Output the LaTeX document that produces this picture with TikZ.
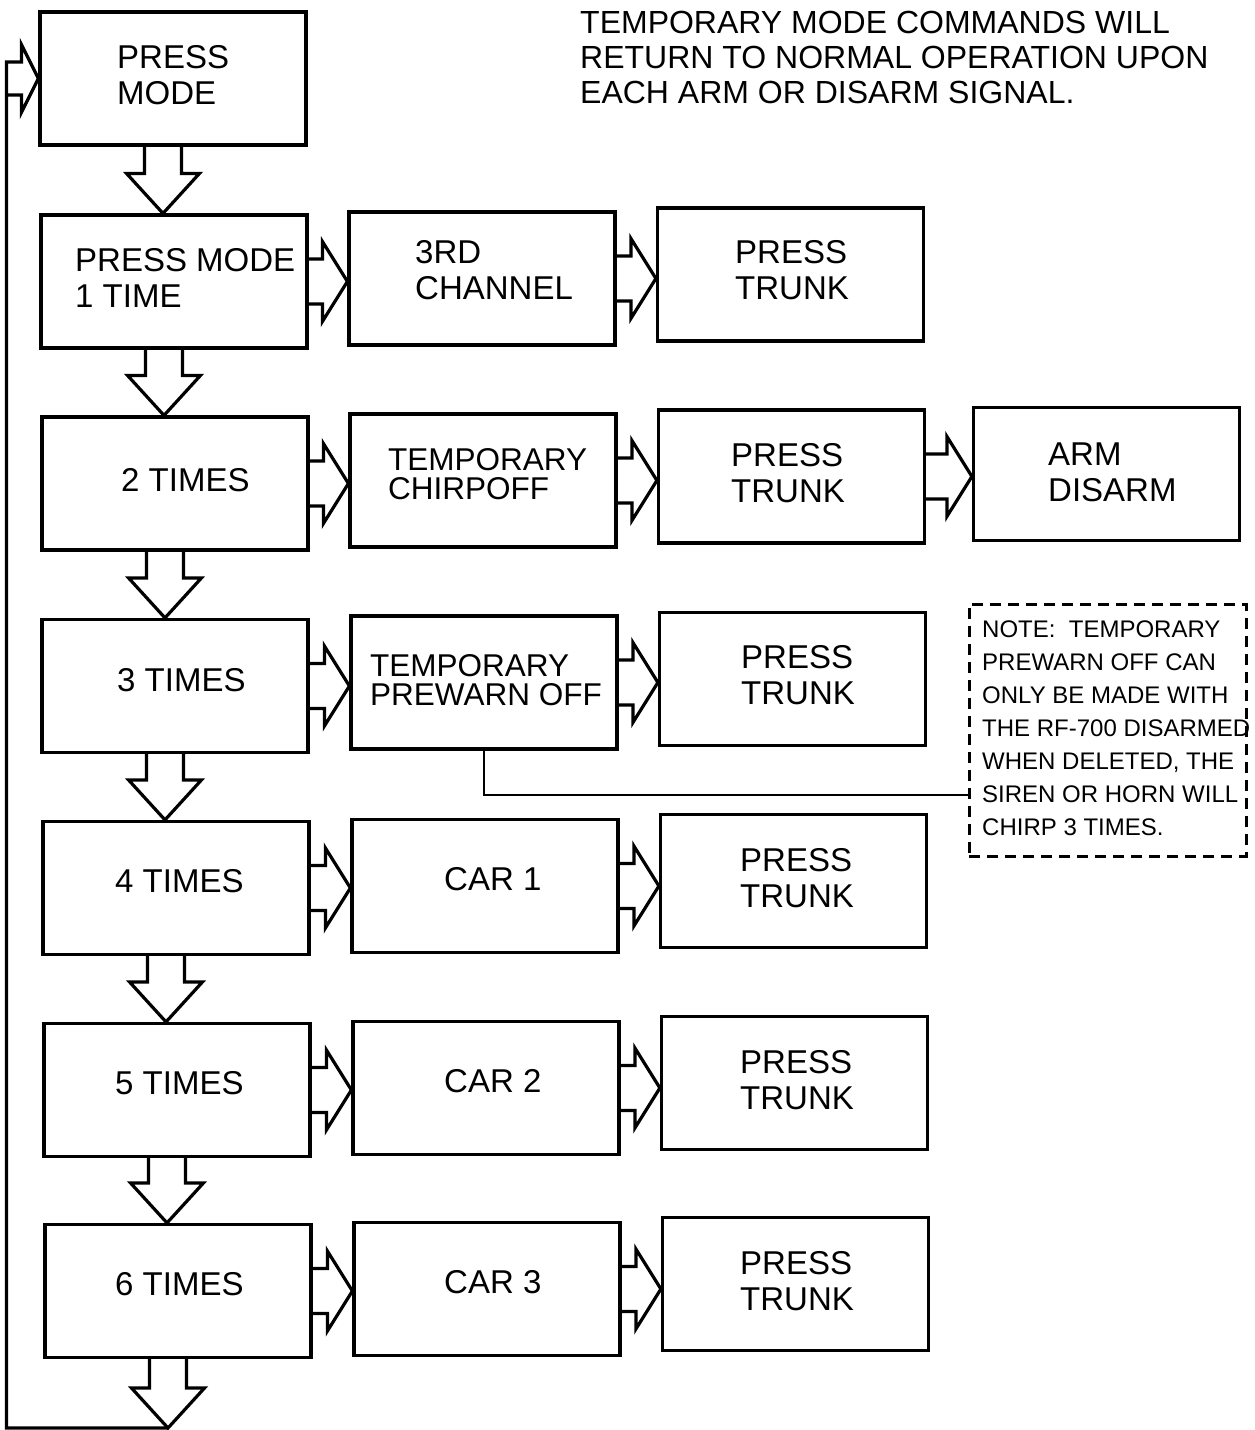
\documentclass[tikz,border=0pt]{standalone}
\usepackage{fontspec}
\setmainfont{Liberation Sans}
\usetikzlibrary{calc}

% block arrow pointing down, shaft starts at #1, tip lies on the level of #2
\newcommand{\downblock}[2]{%
    \draw[blockline] let \p1=(#1), \p2=(#2) in
        (\x1-18.5pt,\y1) -- (\x1-18.5pt,\y2+40pt) -- (\x1-36.5pt,\y2+40pt) -- (\x1,\y2)
        -- (\x1+36.5pt,\y2+40pt) -- (\x1+18.5pt,\y2+40pt) -- (\x1+18.5pt,\y1);}
% block arrow pointing right
\newcommand{\rightblock}[2]{%
    \draw[blockline] let \p1=(#1), \p2=(#2) in
        (\x1,\y1+22.5pt) -- (\x2-25pt,\y1+22.5pt) -- (\x2-25pt,\y1+40pt) -- (\x2,\y1)
        -- (\x2-25pt,\y1-40pt) -- (\x2-25pt,\y1-22.5pt) -- (\x1,\y1-22.5pt);}

\begin{document}
\begin{tikzpicture}[x=1pt, y=-1pt,
    box/.style={draw, line width=3.2pt, minimum width=266pt, minimum height=133pt, inner sep=0pt},
    boxtext/.style={anchor=west, align=left, inner sep=0pt, font=\fontsize{33}{36}\selectfont},
    tighttext/.style={boxtext, font=\fontsize{31.5}{29}\selectfont},
    blockline/.style={line width=3.2pt, line join=miter},
    conn/.style={line width=2.8pt},
    notebox/.style={draw, line width=3pt, dash pattern=on 11pt off 7pt, minimum width=277pt, minimum height=252pt},
    notetext/.style={anchor=west, align=left, inner sep=0pt, font=\fontsize{24}{33}\selectfont},
    headtext/.style={anchor=west, align=left, inner sep=0pt, font=\fontsize{32}{35}\selectfont}]
    \useasboundingbox (0,0) rectangle (1254,1430);

    \node[headtext] (head) at (580,57.5) {TEMPORARY MODE COMMANDS WILL\\RETURN TO NORMAL OPERATION UPON\\EACH ARM OR DISARM SIGNAL.};

    % Row 0
    \node[box] (b0) at (173,78.5) {};
    \node[boxtext] (tb0) at (117,75) {PRESS\\MODE};

    % Row 1
    \node[box] (b1) at (174,281.5) {};
    \node[boxtext] (tb1) at (75,278) {PRESS MODE\\1 TIME};
    \node[box] (c1) at (482,278.5) {};
    \node[boxtext] (tc1) at (415,270) {3RD\\CHANNEL};
    \node[box] (d1) at (790.5,274.5) {};
    \node[boxtext] (td1) at (735,270) {PRESS\\TRUNK};

    % Row 2
    \node[box] (b2) at (175,483.5) {};
    \node[boxtext] (tb2) at (121,480) {2 TIMES};
    \node[box] (c2) at (483,480.5) {};
    \node[tighttext] (tc2) at (388,474) {TEMPORARY\\CHIRPOFF};
    \node[box] (d2) at (791.5,476.5) {};
    \node[boxtext] (td2) at (731,473) {PRESS\\TRUNK};
    \node[box] (e2) at (1106.5,474) {};
    \node[boxtext] (te2) at (1048,472) {ARM\\DISARM};

    % Row 3
    \node[box] (b3) at (175,686) {};
    \node[boxtext] (tb3) at (117,680) {3 TIMES};
    \node[box] (c3) at (484,682.5) {};
    \node[tighttext] (tc3) at (370,680) {TEMPORARY\\PREWARN OFF};
    \node[box] (d3) at (792.5,679) {};
    \node[boxtext] (td3) at (741,675) {PRESS\\TRUNK};

    % Rows 4 to 6
    \foreach \i/\y/\k in {4/888/1, 5/1090/2, 6/1291/3}{
        \node[box] (b\i) at (172+\i,\y) {};
        \node[boxtext] (tb\i) at (115,\y-7) {\i\ TIMES};
        \node[box] (c\i) at (481+\i,\y-2) {};
        \node[boxtext] (tc\i) at (444,\y-9) {CAR \k};
        \node[box] (d\i) at (789.5+\i,\y-7) {};
        \node[boxtext] (td\i) at (740,\y-10) {PRESS\\TRUNK};
        \rightblock{b\i.east}{c\i.west}
        \rightblock{c\i.east}{d\i.west}
    }

    % Note
    \node[notebox] (note) at (1107.5,730) {};
    \node[notetext] (tnote) at (982,728) {NOTE:\ \ TEMPORARY\\PREWARN OFF CAN\\ONLY BE MADE WITH\\THE RF-700 DISARMED\\WHEN DELETED, THE\\SIREN OR HORN WILL\\CHIRP 3 TIMES.};
    \draw[conn] (c3.south) |- ([yshift=-65pt]note.west);

    % Arrows
    \foreach \a/\b in {b0/b1, b1/b2, b2/b3, b3/b4, b4/b5, b5/b6}{
        \downblock{[xshift=-10pt]\a.south}{\b.north}
    }
    \rightblock{b1.east}{c1.west}
    \rightblock{c1.east}{d1.west}
    \rightblock{b2.east}{c2.west}
    \rightblock{c2.east}{d2.west}
    \rightblock{d2.east}{e2.west}
    \rightblock{b3.east}{c3.west}
    \rightblock{c3.east}{d3.west}

    % Loop back to the top
    \coordinate (loopend) at (168,1428);
    \downblock{[xshift=-10pt]b6.south}{loopend}
    \draw[blockline] (loopend) -| ([xshift=-32pt,yshift=16.5pt]b0.west) -- ++(15,0) -- ++(0,-17.5)
        -- (b0.west) -- ++(-17,34) -- ++(0,-17.5) -- ++(-15,0);
\end{tikzpicture}
\end{document}
